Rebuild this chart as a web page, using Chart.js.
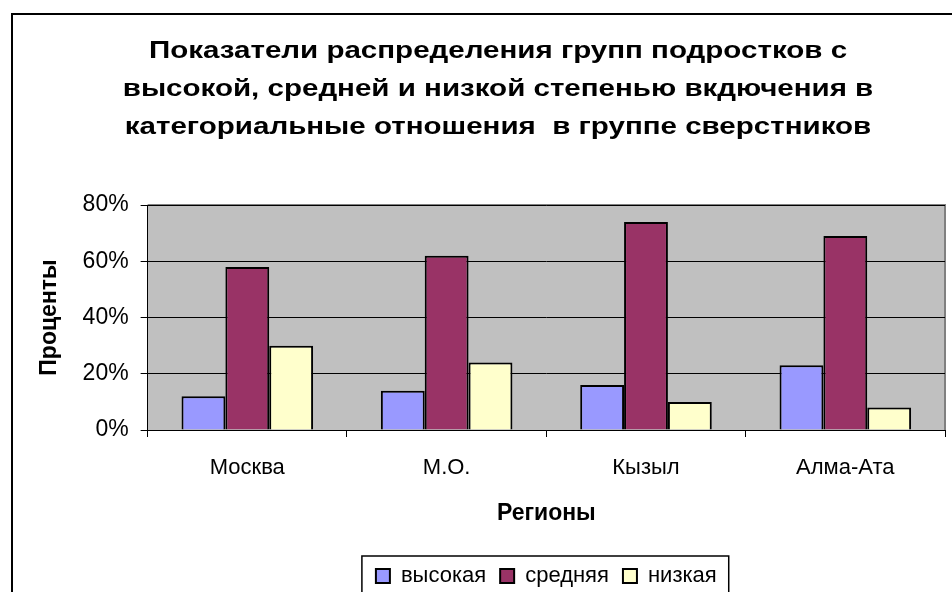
<!DOCTYPE html>
<html>
<head>
<meta charset="utf-8">
<script src="https://cdn.jsdelivr.net/npm/chart.js@4"></script>
<style>
  html, body { margin: 0; padding: 0; background: #fff; overflow: hidden; }
  #wrap { width: 952px; height: 592px; position: relative; overflow: hidden; }
</style>
</head>
<body>
<div id="wrap"><canvas id="chart" width="952" height="597"></canvas></div>
<script>
// Data
const regions = ['Москва', 'М.О.', 'Кызыл', 'Алма-Ата'];
const highValues = [12, 14, 16, 23];
const midValues = [58, 62, 74, 69];
const lowValues = [30, 24, 10, 8];
const seriesNames = ['высокая', 'средняя', 'низкая'];
const yTicks = [0, 20, 40, 60, 80];
const titleLines = [
  'Показатели распределения групп подростков с',
  'высокой, средней и низкой степенью вкдючения в',
  'категориальные отношения  в группе сверстников'
];

const FONT = 'Arial, "Liberation Sans", sans-serif';

// Background, frame, title and legend border
const decorPlugin = {
  id: 'decor',
  beforeDraw(chart) {
    const { ctx, chartArea: a } = chart;
    ctx.save();
    ctx.fillStyle = '#fff';
    ctx.fillRect(0, 0, chart.width, chart.height);
    ctx.fillStyle = '#C0C0C0';
    ctx.fillRect(a.left, a.top, a.right - a.left, a.bottom - a.top);
    // outer chart frame (only top/left visible)
    ctx.strokeStyle = '#000';
    ctx.lineWidth = 2;
    ctx.beginPath();
    ctx.moveTo(12, chart.height);
    ctx.lineTo(12, 14);
    ctx.lineTo(chart.width, 14);
    ctx.stroke();
    // plot border top/right
    ctx.strokeStyle = '#808080';
    ctx.lineWidth = 2;
    ctx.beginPath();
    ctx.moveTo(a.left, a.top);
    ctx.lineTo(a.right, a.top);
    ctx.lineTo(a.right, a.bottom);
    ctx.stroke();
    // title, slightly stretched like the Excel rendering
    ctx.fillStyle = '#000';
    ctx.font = 'bold 24px ' + FONT;
    ctx.textAlign = 'center';
    ctx.textBaseline = 'middle';
    titleLines.forEach((t, i) => {
      ctx.save();
      ctx.translate(498, 51 + i * 38);
      ctx.scale(1.23, 1);
      ctx.fillText(t, 0, 0);
      ctx.restore();
    });
    ctx.restore();
  },
  afterDraw(chart) {
    const lg = chart.legend;
    if (!lg || !lg.legendHitBoxes || !lg.legendHitBoxes.length) return;
    const boxes = lg.legendHitBoxes;
    const left = Math.min(...boxes.map(b => b.left)) - 14;
    const right = Math.max(...boxes.map(b => b.left + b.width)) + 12;
    const top = Math.min(...boxes.map(b => b.top)) - 9;
    const ctx = chart.ctx;
    ctx.save();
    ctx.strokeStyle = '#000';
    ctx.lineWidth = 1.5;
    ctx.strokeRect(left, top, right - left, 60);
    ctx.restore();
  }
};

const ctx = document.getElementById('chart').getContext('2d');

new Chart(ctx, {
  type: 'bar',
  data: {
    labels: regions,
    datasets: [
      { label: seriesNames[0], data: highValues, backgroundColor: '#9999FF', borderColor: '#000', borderWidth: 2 },
      { label: seriesNames[1], data: midValues, backgroundColor: '#993366', borderColor: '#000', borderWidth: 2 },
      { label: seriesNames[2], data: lowValues, backgroundColor: '#FFFFCC', borderColor: '#000', borderWidth: 2 }
    ]
  },
  options: {
    responsive: false,
    animation: false,
    devicePixelRatio: 1,
    categoryPercentage: 0.66,
    barPercentage: 1,
    layout: { padding: { top: 205, left: 36, right: 7, bottom: 0 } },
    plugins: {
      title: { display: false },
      tooltip: { enabled: false },
      legend: {
        position: 'bottom',
        fullSize: false,
        labels: {
          color: '#000',
          font: { family: FONT, size: 22 },
          boxWidth: 14,
          boxHeight: 14,
          padding: 14
        }
      }
    },
    scales: {
      x: {
        grid: {
          offset: true,
          drawOnChartArea: false,
          color: '#000',
          tickLength: 7,
          lineWidth: 1
        },
        border: { color: '#000', width: 1 },
        ticks: { color: '#000', font: { family: FONT, size: 22 }, padding: 18 },
        title: {
          display: true,
          text: 'Регионы',
          color: '#000',
          font: { family: FONT, size: 23, weight: 'bold' },
          padding: { top: 0, bottom: 24 }
        }
      },
      y: {
        min: 0,
        max: 80,
        afterBuildTicks(axis) { axis.ticks = yTicks.map(v => ({ value: v })); },
        grid: { color: '#000', tickLength: 7, lineWidth: 1 },
        border: { color: '#000', width: 1 },
        ticks: {
          color: '#000',
          font: { family: FONT, size: 23 },
          padding: 12,
          callback: v => v + '%'
        },
        title: {
          display: true,
          text: 'Проценты',
          color: '#000',
          font: { family: FONT, size: 23, weight: 'bold' },
          padding: { top: 0, bottom: 7 }
        }
      }
    }
  },
  plugins: [decorPlugin]
});
</script>
</body>
</html>
